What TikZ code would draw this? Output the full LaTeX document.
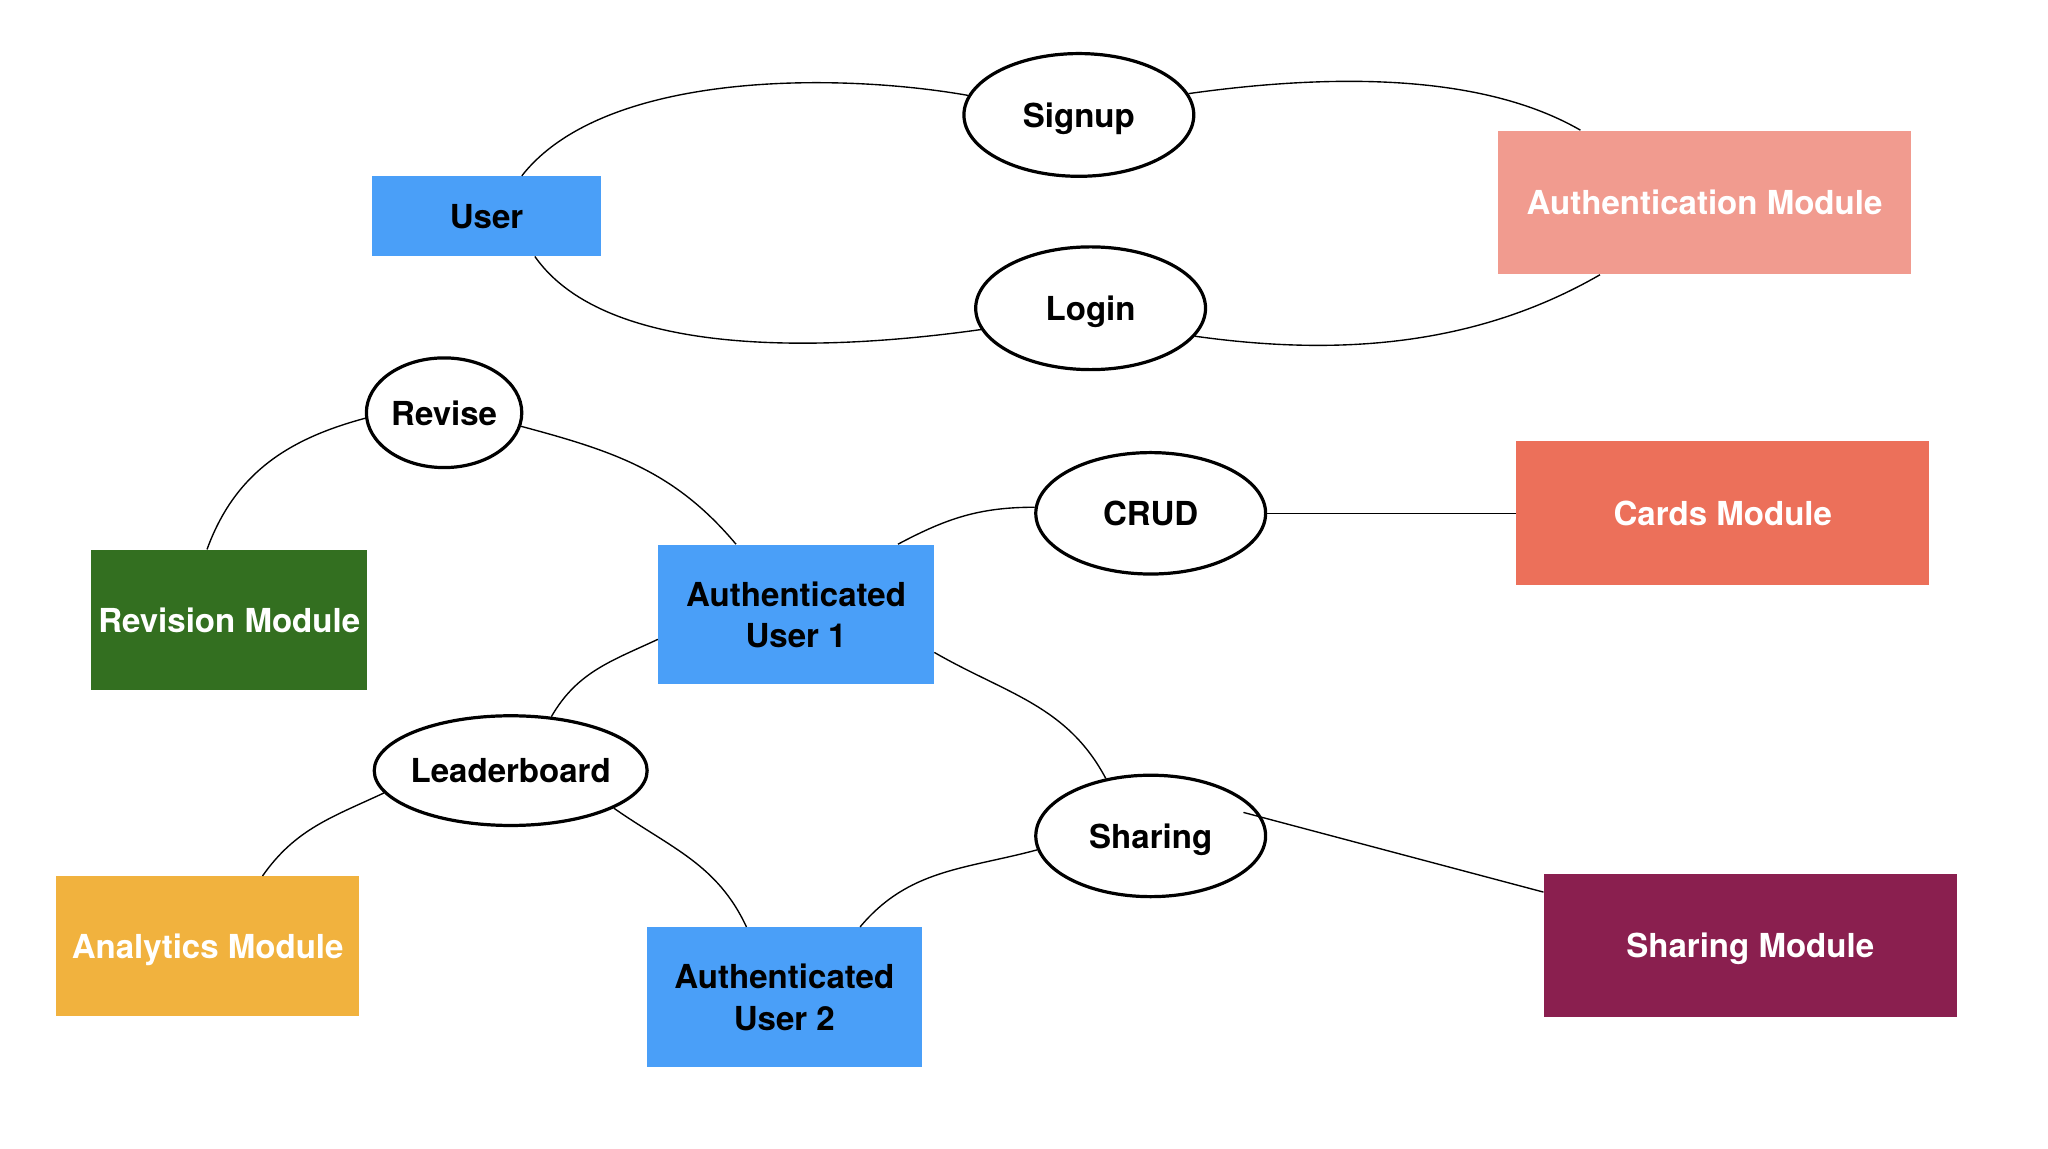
\documentclass[tikz,border=0pt]{standalone}
\usepackage{fontspec}
\setmainfont{TeX Gyre Heros}
\usepackage{xcolor}
\usepackage{tikz}
\usetikzlibrary{calc,shapes.geometric}
\definecolor{userblue}{HTML}{4A9FF8}
\definecolor{authpink}{HTML}{F19B8F}
\definecolor{cardred}{HTML}{EC705A}
\definecolor{revgreen}{HTML}{336F20}
\definecolor{anaorange}{HTML}{F1B23E}
\definecolor{sharewine}{HTML}{8A1F4F}
\tikzset{
  txt/.style={font=\bfseries\fontsize{14.4}{18}\selectfont, align=center, text depth=0pt},
  box/.style={rectangle, inner sep=0pt, txt},
  actor/.style={box, fill=userblue, text=black},
  module/.style={box, text=white, minimum width=6.32cm, minimum height=2.2cm},
  midbox/.style={minimum width=4.22cm, minimum height=2.14cm},
  usecase/.style={ellipse, draw=black, line width=1.4pt, fill=white, inner sep=0pt, txt},
  bigcase/.style={usecase, minimum width=3.52cm, minimum height=1.88cm},
  link/.style={draw=black, line width=0.6pt},
}
\begin{document}
\begin{tikzpicture}[x=0.02cm, y=0.02cm]
  \useasboundingbox (0,0) rectangle (1568,-879);
  % boxes
  \node[actor, minimum width=3.5cm, minimum height=1.22cm] (User) at (372.5,-165.5) {User};
  \node[module, fill=authpink] (Auth) at (1305,-155) {Authentication Module};
  \node[module, fill=cardred] (Cards) at (1319,-393) {Cards Module};
  \node[module, fill=sharewine] (SharingMod) at (1340,-724) {Sharing Module};
  \node[box, midbox, fill=revgreen, text=white] (Revision) at (175.5,-474.5) {Revision Module};
  \node[box, midbox, fill=anaorange, text=white, minimum width=4.64cm] (Analytics) at (159,-724.5) {Analytics Module};
  \node[actor, midbox] (AU1) at (609.5,-470.5) {Authenticated\\User 1};
  \node[actor, midbox] (AU2) at (600.5,-763.5) {Authenticated\\User 2};
  % use cases
  \node[bigcase] (Signup) at (826,-88) {\makebox[0pt]{Signup}};
  \node[bigcase] (Login) at (835,-236) {\makebox[0pt]{Login}};
  \node[bigcase, minimum height=1.86cm] (CRUD) at (881,-393) {\makebox[0pt]{CRUD}};
  \node[bigcase, minimum height=1.86cm] (Sharing) at (881,-640) {\makebox[0pt]{Sharing}};
  \node[usecase, minimum width=2.38cm, minimum height=1.68cm] (Revise) at (340,-316) {\makebox[0pt]{Revise}};
  \node[usecase, minimum width=4.18cm, minimum height=1.68cm] (Leader) at (391,-590) {\makebox[0pt]{Leaderboard}};
  % links
  \draw[link] ($(User.north)+(27,0)$) to[out=52,in=170,looseness=0.75] (Signup.170);
  \draw[link] (Signup.11) to[out=8,in=150,looseness=0.8] ($(Auth.north)+(-95,0)$);
  \draw[link] ($(User.south)+(37,0)$) to[out=-55,in=188,looseness=0.75] (Login.191);
  \draw[link] (Login.-15) to[out=-8,in=210,looseness=0.9] ($(Auth.south)+(-80,0)$);
  \draw[link] (Revise.184) to[out=195,in=70] ($(Revision.north)+(-17,0)$);
  \draw[link] (Revise.-10) to[out=-15,in=130] ($(AU1.north)+(-46,0)$);
  \draw[link] ($(AU1.north)+(78,0)$) to[out=28,in=180] (CRUD.177);
  \draw[link] (CRUD) -- (Cards);
  \draw[link] ($(AU1.west)+(0,-19)$) to[out=-155,in=60] (Leader.53);
  \draw[link] ($(AU1.east)+(0,-29)$) to[out=-30,in=118] (Sharing.128);
  \draw[link] (Leader.190) to[out=-155,in=55] ($(Analytics.north)+(42,0)$);
  \draw[link] (Leader.-20) to[out=-35,in=115] ($(AU2.north)+(-29,0)$);
  \draw[link] (Sharing.187) to[out=195,in=50] ($(AU2.north)+(58,0)$);
  \draw[link] ($(Sharing)+(71,18)$) -- ($(SharingMod.west)+(0,41)$);
\end{tikzpicture}
\end{document}
